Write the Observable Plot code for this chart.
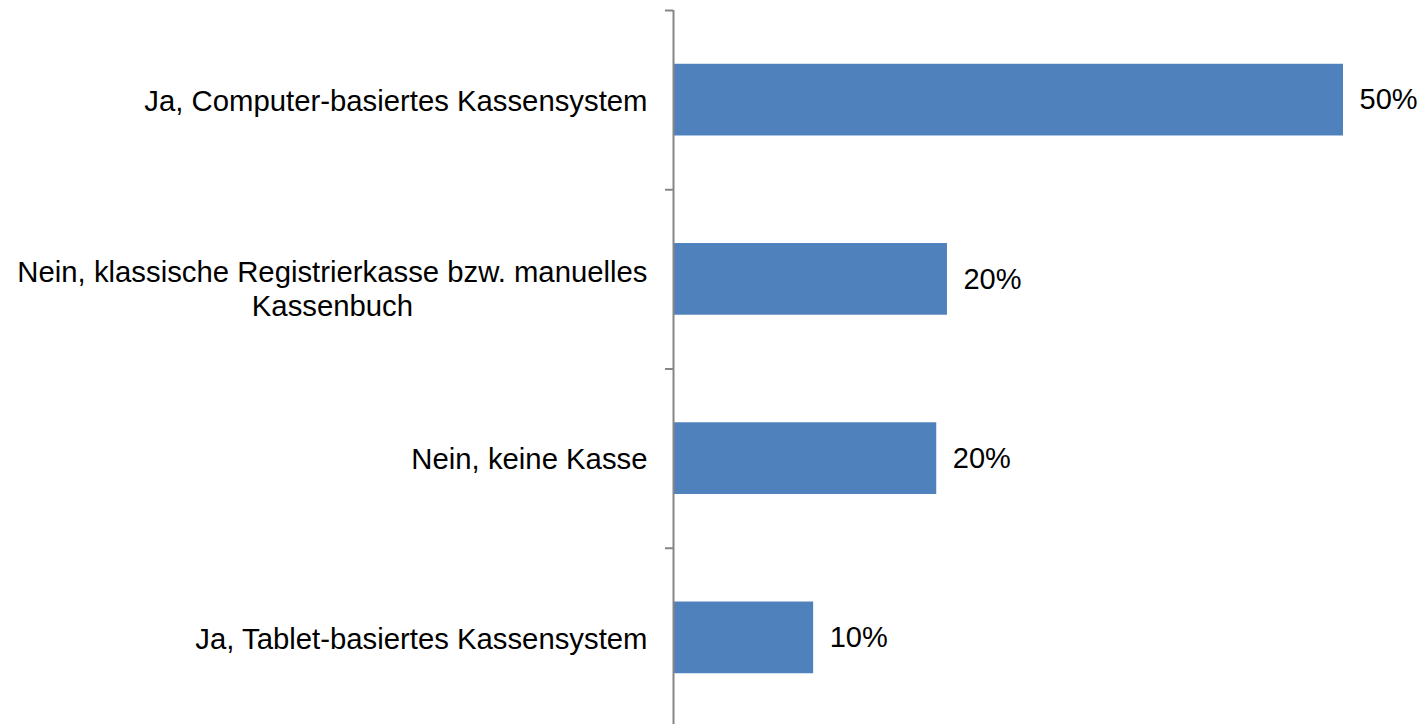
<!DOCTYPE html>
<html>
<head>
<meta charset="utf-8">
<script src="https://cdn.jsdelivr.net/npm/d3@7"></script>
<script src="https://cdn.jsdelivr.net/npm/@observablehq/plot@0.6"></script>
<style>
  html, body { margin: 0; padding: 0; background: white; overflow: hidden; }
</style>
</head>
<body>
<div id="chart"></div>
<script>
const categories = [
  "Ja, Computer-basiertes Kassensystem",
  "Nein, klassische Registrierkasse bzw. manuelles\nKassenbuch",
  "Nein, keine Kasse",
  "Ja, Tablet-basiertes Kassensystem"
];
const values = [50, 20.4, 19.6, 10.4];
const valueLabels = ["50%", "20%", "20%", "10%"];
const boundaries = [0, 1, 2, 3, 4];

const data = categories.map((c, i) => ({category: c, value: values[i], label: valueLabels[i], pos: i}));

const chart = Plot.plot({
  width: 1425,
  height: 727,
  marginLeft: 674,
  marginRight: 82,
  marginTop: 10,
  marginBottom: 0,
  style: {fontFamily: "'Liberation Sans', Arial, sans-serif", fontSize: "29px", background: "white", color: "black"},
  x: {domain: [0, 50], axis: null},
  y: {domain: [0, 4], reverse: true, axis: null},
  marks: [
    Plot.rectX(data, {x1: 0, x2: "value", y1: d => d.pos + 0.3, y2: d => d.pos + 0.7, fill: "#4F81BD"}),
    Plot.ruleX([0], {y1: 0, y2: 4, stroke: "#868686", strokeWidth: 2, dx: -1}),
    Plot.axisY(boundaries, {tickSize: 8, tickFormat: () => "", stroke: "#868686", strokeWidth: 2, label: null, dx: -1}),
    Plot.text(data, {x: 0, y: d => d.pos + 0.5, text: "category", textAnchor: "end", dx: -27, fill: "black", fontSize: 29.3, lineHeight: 1.14, className: "cat-labels"}),
    Plot.text(data, {x: "value", y: d => d.pos + 0.5, text: "label", textAnchor: "start", dx: 16, fill: "black", fontSize: 29})
  ]
});
document.getElementById("chart").appendChild(chart);

// center multi-line category labels (as in the original) around their block
chart.querySelectorAll(".cat-labels text").forEach(t => {
  const spans = t.querySelectorAll("tspan");
  if (spans.length > 1) {
    const bb = t.getBBox();
    t.setAttribute("text-anchor", "middle");
    const tr = t.getAttribute("transform") || "";
    t.setAttribute("transform", tr + ` translate(${-bb.width / 2},9)`);
  }
});
</script>
</body>
</html>
